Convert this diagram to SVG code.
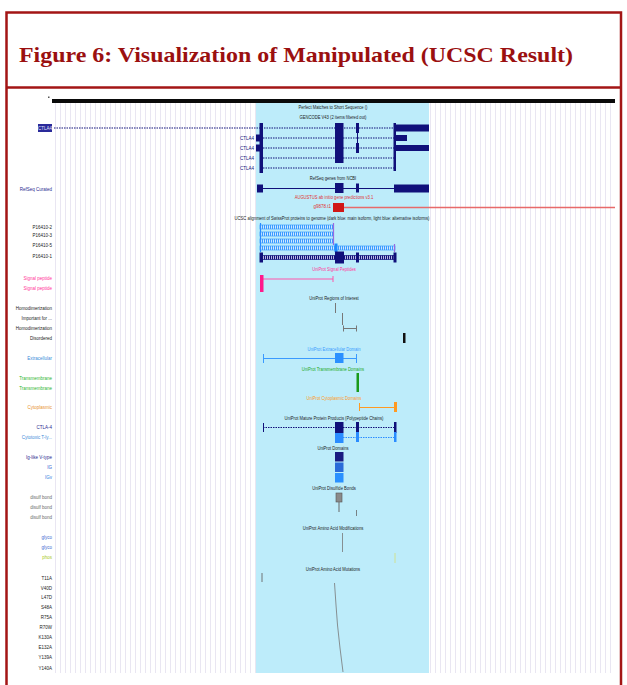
<svg xmlns="http://www.w3.org/2000/svg" width="627" height="685" viewBox="0 0 627 685">
<defs>
<pattern id="grid" width="5" height="10" patternUnits="userSpaceOnUse">
<rect width="5" height="10" fill="#ffffff"/>
<rect x="0" width="1" height="10" fill="#e9e6f2"/>
</pattern>
<pattern id="hatchL" width="2" height="4" patternUnits="userSpaceOnUse">
<rect width="2" height="4" fill="#cfe8ff"/>
<rect width="1" height="4" fill="#3a9bff"/>
</pattern>
<pattern id="hatchD" width="2" height="4" patternUnits="userSpaceOnUse">
<rect width="2" height="4" fill="#b8b8e0"/>
<rect width="1" height="4" fill="#10107a"/>
</pattern>
<style>
.t{font-family:"Liberation Sans",Arial,sans-serif;font-size:6px;fill:#222}
.c{font-family:"Liberation Sans",Arial,sans-serif;font-size:5.5px;fill:#1a1a1a;text-anchor:middle}
.nv{fill:#10107a}
.dn{stroke:#10107a;stroke-width:1.2;stroke-dasharray:1.5 1;fill:none}
</style>
</defs>

<!-- frame -->
<g id="frame">
<rect x="0" y="0" width="627" height="685" fill="#ffffff"/>
<rect x="6.5" y="12.5" width="614.5" height="690" fill="none" stroke="#a31515" stroke-width="2.5"/>
<line x1="6" y1="87.5" x2="621" y2="87.5" stroke="#a31515" stroke-width="2.5"/>
<text x="19" y="62" font-family="'Liberation Serif','Times New Roman',serif" font-weight="bold" font-size="21" fill="#9b1010" textLength="554" lengthAdjust="spacingAndGlyphs">Figure 6: Visualization of Manipulated (UCSC Result)</text>
</g>

<!-- browser background -->
<g id="browser-bg">
<rect x="52" y="103" width="563" height="570" fill="url(#grid)"/>
<rect x="256" y="103" width="173" height="570" fill="#bdecfa"/>
<rect x="52" y="99" width="563" height="4" fill="#0a0a0a"/>
<rect x="48" y="96.5" width="1.5" height="1.5" fill="#555"/>
</g>

<!-- left labels -->
<g id="left-labels">
<rect x="38" y="124" width="14" height="8" fill="#2a2a9a"/>
<g transform="translate(45,0) scale(0.75,1)"><text class="t" x="0" y="130.3" text-anchor="middle" style="fill:#e8e8ff">CTLA4</text></g>
<g transform="translate(52,0) scale(0.75,1)" text-anchor="end">
<text class="t" x="0" y="191" style="fill:#2a2a90">RefSeq Curated</text>
<text class="t" x="0" y="229">P16410-2</text>
<text class="t" x="0" y="237">P16410-3</text>
<text class="t" x="0" y="247">P16410-5</text>
<text class="t" x="0" y="258">P16410-1</text>
<text class="t" x="0" y="280" style="fill:#ff3399">Signal peptide</text>
<text class="t" x="0" y="290" style="fill:#ff3399">Signal peptide</text>
<text class="t" x="0" y="310">Homodimerization</text>
<text class="t" x="0" y="320">Important for ...</text>
<text class="t" x="0" y="330">Homodimerization</text>
<text class="t" x="0" y="340">Disordered</text>
<text class="t" x="0" y="360" style="fill:#3a8ad8">Extracellular</text>
<text class="t" x="0" y="380" style="fill:#2fb52f">Transmembrane</text>
<text class="t" x="0" y="390" style="fill:#2fb52f">Transmembrane</text>
<text class="t" x="0" y="409" style="fill:#e8902a">Cytoplasmic</text>
<text class="t" x="0" y="429" style="fill:#2a2a90">CTLA-4</text>
<text class="t" x="0" y="439" style="fill:#3a8ad8">Cytotoxic T-ly...</text>
<text class="t" x="0" y="459" style="fill:#2a2a90">Ig-like V-type</text>
<text class="t" x="0" y="469" style="fill:#2a5ad0">IG</text>
<text class="t" x="0" y="479" style="fill:#2a7ae0">IGv</text>
<text class="t" x="0" y="499" style="fill:#666">disulf bond</text>
<text class="t" x="0" y="509" style="fill:#666">disulf bond</text>
<text class="t" x="0" y="519" style="fill:#666">disulf bond</text>
<text class="t" x="0" y="539" style="fill:#3a6ad0">glyco</text>
<text class="t" x="0" y="549" style="fill:#3a6ad0">glyco</text>
<text class="t" x="0" y="559" style="fill:#a8c820">phos</text>
<text class="t" x="0" y="580">T11A</text>
<text class="t" x="0" y="590">V40D</text>
<text class="t" x="0" y="599">L47D</text>
<text class="t" x="0" y="609">S48A</text>
<text class="t" x="0" y="619">R75A</text>
<text class="t" x="0" y="629">R70W</text>
<text class="t" x="0" y="639">K130A</text>
<text class="t" x="0" y="649">E132A</text>
<text class="t" x="0" y="659">Y139A</text>
<text class="t" x="0" y="670">Y140A</text>
</g>
</g>

<!-- GENCODE track -->
<g id="gencode">
<g transform="translate(333,0) scale(0.75,1)">
<text class="c" x="0" y="109">Perfect Matches to Short Sequence ()</text>
<text class="c" x="0" y="119">GENCODE V43 (2 items filtered out)</text>
</g>
<g transform="translate(254,0) scale(0.75,1)" text-anchor="end">
<text class="t" x="0" y="140" style="fill:#10107a">CTLA4</text>
<text class="t" x="0" y="150" style="fill:#10107a">CTLA4</text>
<text class="t" x="0" y="160" style="fill:#10107a">CTLA4</text>
<text class="t" x="0" y="170" style="fill:#10107a">CTLA4</text>
</g>
<line class="dn" x1="54" y1="128" x2="394" y2="128"/>
<line class="dn" x1="263" y1="138" x2="394" y2="138"/>
<line class="dn" x1="263" y1="148" x2="394" y2="148"/>
<line class="dn" x1="263" y1="158" x2="394" y2="158"/>
<line class="dn" x1="263" y1="168" x2="394" y2="168"/>
<rect class="nv" x="259.5" y="123" width="3.5" height="50"/>
<rect class="nv" x="256" y="134.5" width="7" height="7"/>
<rect class="nv" x="256" y="144.5" width="7" height="7"/>
<rect class="nv" x="335" y="123" width="8.5" height="40"/>
<rect class="nv" x="356" y="123" width="3" height="10"/>
<rect class="nv" x="357" y="133" width="1" height="10"/>
<rect class="nv" x="356" y="143" width="3" height="10"/>
<rect class="nv" x="393.5" y="123" width="2.5" height="48"/>
<rect class="nv" x="394" y="124.5" width="35" height="7"/>
<rect class="nv" x="394" y="135" width="13" height="6"/>
<rect class="nv" x="394" y="145" width="35" height="6"/>
</g>

<!-- RefSeq track -->
<g id="refseq">
<g transform="translate(333,0) scale(0.75,1)"><text class="c" x="0" y="180">RefSeq genes from NCBI</text></g>
<line x1="263" y1="188.5" x2="394" y2="188.5" stroke="#10107a" stroke-width="1.2"/>
<rect class="nv" x="257" y="184.5" width="6" height="8"/>
<rect class="nv" x="335" y="183" width="8.5" height="10"/>
<rect class="nv" x="356" y="183.5" width="3" height="9"/>
<rect class="nv" x="394" y="184.5" width="35" height="8"/>
</g>

<!-- AUGUSTUS track -->
<g id="augustus">
<g transform="translate(334,0) scale(0.75,1)"><text class="c" x="0" y="199" style="fill:#e03030">AUGUSTUS ab initio gene predictions v3.1</text></g>
<g transform="translate(331,0) scale(0.75,1)"><text class="t" x="0" y="208" text-anchor="end" style="fill:#e03030">g9878.t1</text></g>
<line x1="343" y1="207.5" x2="615" y2="207.5" stroke="#e86a6a" stroke-width="1.3"/>
<rect x="333" y="203" width="11" height="9" fill="#d01818"/>
</g>

<!-- SwissProt track -->
<g id="swissprot">
<g transform="translate(332,0) scale(0.75,1)"><text class="c" x="0" y="220">UCSC alignment of SwissProt proteins to genome (dark blue: main isoform, light blue: alternative isoforms)</text></g>
<rect x="260" y="225" width="73" height="4" fill="url(#hatchL)" stroke="#3a9bff" stroke-width="0.7"/>
<rect x="260" y="232" width="73" height="4" fill="url(#hatchL)" stroke="#3a9bff" stroke-width="0.7"/>
<rect x="260" y="239" width="73" height="4" fill="url(#hatchL)" stroke="#3a9bff" stroke-width="0.7"/>
<rect x="260" y="246" width="135" height="4" fill="url(#hatchL)" stroke="#3a9bff" stroke-width="0.7"/>
<line x1="260.5" y1="223" x2="260.5" y2="252" stroke="#2a8cff" stroke-width="1.2"/>
<line x1="333.5" y1="223" x2="333.5" y2="245" stroke="#9a6adf" stroke-width="1.2"/>
<rect x="334.5" y="243.5" width="3" height="8.5" fill="#1e8cff"/>
<line x1="394.5" y1="244" x2="394.5" y2="252" stroke="#9a6adf" stroke-width="1.2"/>
<rect x="262" y="255.5" width="132" height="4" fill="url(#hatchD)" stroke="#10107a" stroke-width="0.7"/>
<rect class="nv" x="259.5" y="252.5" width="3.5" height="10"/>
<rect class="nv" x="335" y="251.5" width="9" height="12"/>
<rect class="nv" x="356" y="252.5" width="3" height="10"/>
<rect class="nv" x="393.5" y="252.5" width="3" height="10"/>
</g>

<!-- Signal peptide -->
<g id="signal">
<g transform="translate(334,0) scale(0.75,1)"><text class="c" x="0" y="271" style="fill:#ff3399">UniProt Signal Peptides</text></g>
<line x1="263" y1="279" x2="333" y2="279" stroke="#ff55aa" stroke-width="1"/>
<line x1="333" y1="276" x2="333" y2="282" stroke="#ff55aa" stroke-width="1"/>
<rect x="260" y="275" width="3.5" height="17" fill="#ff1a8c"/>
</g>

<!-- Regions of interest -->
<g id="regions">
<g transform="translate(334,0) scale(0.75,1)"><text class="c" x="0" y="300">UniProt Regions of Interest</text></g>
<line x1="335.5" y1="303" x2="335.5" y2="313" stroke="#777" stroke-width="1"/>
<line x1="342.5" y1="313" x2="342.5" y2="325" stroke="#777" stroke-width="1"/>
<line x1="343" y1="328.5" x2="357" y2="328.5" stroke="#777" stroke-width="1"/>
<line x1="343.5" y1="325.5" x2="343.5" y2="331.5" stroke="#777" stroke-width="1"/>
<line x1="356.5" y1="325.5" x2="356.5" y2="331.5" stroke="#777" stroke-width="1"/>
<rect x="403" y="333" width="2.5" height="10" fill="#111"/>
</g>

<!-- Extracellular -->
<g id="extracellular">
<g transform="translate(334,0) scale(0.75,1)"><text class="c" x="0" y="351" style="fill:#3a9aff">UniProt Extracellular Domain</text></g>
<line x1="263" y1="358.5" x2="357" y2="358.5" stroke="#3a9aff" stroke-width="1"/>
<line x1="263.5" y1="354" x2="263.5" y2="363" stroke="#3a9aff" stroke-width="1"/>
<line x1="356.5" y1="354" x2="356.5" y2="363" stroke="#3a9aff" stroke-width="1"/>
<rect x="335" y="353" width="8.5" height="10" fill="#2a90ff"/>
</g>

<!-- Transmembrane -->
<g id="transmembrane">
<g transform="translate(333,0) scale(0.75,1)"><text class="c" x="0" y="371" style="fill:#22aa22">UniProt Transmembrane Domains</text></g>
<rect x="356.5" y="373" width="2.5" height="19" fill="#1a9a1a"/>
</g>

<!-- Cytoplasmic -->
<g id="cytoplasmic">
<g transform="translate(334,0) scale(0.75,1)"><text class="c" x="0" y="400" style="fill:#ff9a22">UniProt Cytoplasmic Domains</text></g>
<line x1="359" y1="407.5" x2="395" y2="407.5" stroke="#ff9a22" stroke-width="1"/>
<line x1="359.5" y1="403" x2="359.5" y2="411" stroke="#ff9a22" stroke-width="1"/>
<rect x="394" y="402" width="3" height="10" fill="#ff9a22"/>
</g>

<!-- Mature protein products -->
<g id="mature">
<g transform="translate(334,0) scale(0.75,1)"><text class="c" x="0" y="420">UniProt Mature Protein Products (Polypeptide Chains)</text></g>
<line class="dn" x1="263" y1="427.5" x2="395" y2="427.5"/>
<line x1="263.5" y1="423" x2="263.5" y2="432" stroke="#10107a" stroke-width="1"/>
<rect class="nv" x="335" y="422" width="8.5" height="11"/>
<rect class="nv" x="356" y="422" width="3" height="11"/>
<rect class="nv" x="394" y="422" width="2.5" height="11"/>
<line x1="343" y1="437.5" x2="395" y2="437.5" stroke="#2a8cff" stroke-width="1.2" stroke-dasharray="1.5 1"/>
<rect x="335" y="433" width="8.5" height="10" fill="#2a8cff"/>
<rect x="356" y="432" width="3" height="10" fill="#2a8cff"/>
<rect x="394" y="432" width="2.5" height="10" fill="#2a8cff"/>
</g>

<!-- Domains -->
<g id="domains">
<g transform="translate(333,0) scale(0.75,1)"><text class="c" x="0" y="450">UniProt Domains</text></g>
<rect x="335" y="452" width="8.5" height="9.5" fill="#1a1a80"/>
<rect x="335" y="462.5" width="8.5" height="9.5" fill="#2a6ad8"/>
<rect x="335" y="473" width="8.5" height="9.5" fill="#2a90ff"/>
</g>

<!-- Disulfide bonds -->
<g id="disulfide">
<g transform="translate(334,0) scale(0.75,1)"><text class="c" x="0" y="490">UniProt Disulfide Bonds</text></g>
<rect x="336" y="493" width="6" height="9" fill="#8a8a8a" stroke="#555" stroke-width="0.6"/>
<line x1="339" y1="502" x2="339" y2="512" stroke="#666" stroke-width="1"/>
</g>

<!-- Modifications -->
<g id="modifications">
<line x1="356.5" y1="510" x2="356.5" y2="516" stroke="#666" stroke-width="0.8"/>
<g transform="translate(333,0) scale(0.75,1)"><text class="c" x="0" y="530">UniProt Amino Acid Modifications</text></g>
<line x1="342.5" y1="533" x2="342.5" y2="552" stroke="#777" stroke-width="0.8"/>
<line x1="395" y1="553" x2="395" y2="563" stroke="#d4e07a" stroke-width="0.8"/>
</g>

<!-- Mutations -->
<g id="mutations">
<g transform="translate(333,0) scale(0.75,1)"><text class="c" x="0" y="571">UniProt Amino Acid Mutations</text></g>
<line x1="262" y1="573" x2="262" y2="582" stroke="#666" stroke-width="0.9"/>
<polyline points="334.5,583 336,605 337.5,625 340,648 343,672" fill="none" stroke="#777" stroke-width="0.8"/>
</g>
</svg>
